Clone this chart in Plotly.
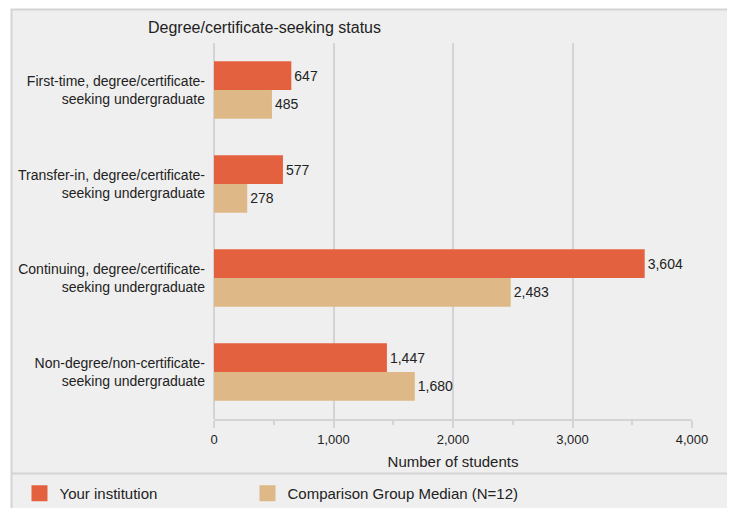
import plotly.graph_objects as go

categories = [
    "First-time, degree/certificate-<br>seeking undergraduate",
    "Transfer-in, degree/certificate-<br>seeking undergraduate",
    "Continuing, degree/certificate-<br>seeking undergraduate",
    "Non-degree/non-certificate-<br>seeking undergraduate",
]
your_institution = [647, 577, 3604, 1447]
comparison_median = [485, 278, 2483, 1680]
series_names = ["Your institution", "Comparison Group Median (N=12)"]
colors = ["#e4613f", "#deb887"]
x_ticks = [0, 1000, 2000, 3000, 4000]

FONT = "Liberation Sans, Arial, sans-serif"
GRID = "#d4d4d4"

fig = go.Figure()
for name, vals, col in zip(series_names, [your_institution, comparison_median], colors):
    fig.add_trace(go.Bar(
        y=categories, x=vals, orientation="h", name=name,
        marker=dict(color=col, line=dict(width=0)),
        texttemplate="%{x:,}", textposition="outside",
        textfont=dict(size=14, color="#222222", family=FONT),
        cliponaxis=False, showlegend=False,
    ))
# legend entries (large square swatches), one legend box per series
for name, col, lg in zip(series_names, colors, ["legend", "legend2"]):
    fig.add_trace(go.Scatter(
        x=[None], y=[None], mode="markers", name=name,
        marker=dict(symbol="square", size=16, color=col),
        showlegend=True, legend=lg,
    ))

# page body has an 8px margin; the figure is sized to fill the rest of the window
OFF = 8
W, H = 735 - OFF, 508 - OFF
L, R, T, B = 214 - OFF, 43, 43 - OFF, 89
pw, ph = W - L - R, H - T - B
def px(xs):  # screen x -> paper x
    return (xs - OFF - L) / pw
def py(ys):  # screen y -> paper y
    return (H - B - (ys - OFF)) / ph

legend_style = dict(
    orientation="h", xanchor="left", y=py(493.5), yanchor="middle",
    font=dict(size=15, color="#222222", family=FONT),
    bgcolor="rgba(0,0,0,0)", itemsizing="trace",
)

fig.update_layout(
    width=W, height=H,
    margin=dict(l=L, r=R, t=T, b=B, autoexpand=False),
    paper_bgcolor="white",
    plot_bgcolor="rgba(0,0,0,0)",
    font=dict(family=FONT, size=14, color="#222222"),
    barmode="group", bargap=0.39, bargroupgap=0,
    showlegend=True,
    legend=dict(x=px(19.5), **legend_style),
    legend2=dict(x=px(247.5), **legend_style),
    shapes=[
        dict(type="rect", xref="paper", yref="paper",
             x0=px(11.5), x1=px(730.5), y0=py(530), y1=py(9.5),
             fillcolor="#efefef", line=dict(color=GRID, width=2), layer="below"),
        dict(type="line", xref="paper", yref="paper",
             x0=px(11.5), x1=px(730.5), y0=py(473.5), y1=py(473.5),
             line=dict(color=GRID, width=2), layer="below"),
    ],
    annotations=[
        dict(text="Degree/certificate-seeking status", xref="paper", yref="paper",
             x=px(146), y=py(28), xanchor="left", yanchor="middle",
             showarrow=False, font=dict(size=16, color="#222222", family=FONT)),
    ],
)
fig.update_xaxes(
    range=[0, 4000], tickvals=x_ticks, tickformat=",",
    showgrid=True, gridcolor=GRID, gridwidth=2,
    zeroline=True, zerolinecolor=GRID, zerolinewidth=2,
    showline=True, linecolor=GRID, linewidth=2,
    ticks="outside", ticklen=7, tickwidth=2, tickcolor=GRID,
    minor=dict(dtick=500, ticks="outside", ticklen=4, tickwidth=2, tickcolor=GRID, showgrid=False),
    tickfont=dict(size=13, color="#222222", family=FONT),
    title=dict(text="Number of students", font=dict(size=15, color="#222222", family=FONT), standoff=11),
)
fig.update_yaxes(
    autorange="reversed", showgrid=False, zeroline=False, showline=False,
    ticks="", ticklabelstandoff=8,
    tickfont=dict(size=14, color="#222222", family=FONT),
)

fig.write_html("out.html")
